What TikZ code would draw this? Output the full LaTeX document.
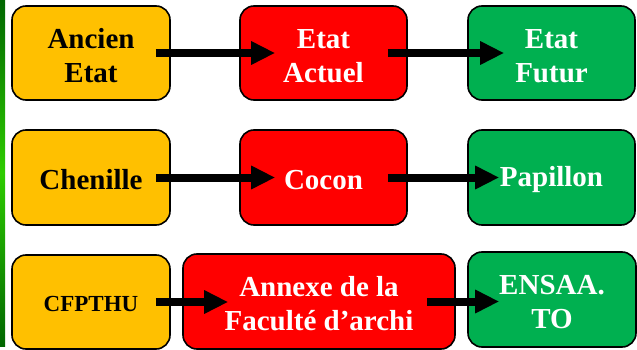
\documentclass[tikz,border=0pt]{standalone}
\usepackage{fontspec}
\setmainfont{Liberation Serif}
\usetikzlibrary{arrows.meta,shapes}
\definecolor{jaune}{HTML}{FFC000}
\definecolor{rouge}{HTML}{FF0000}
\definecolor{vert}{HTML}{00B050}
\tikzstyle{etape}=[rectangle,rounded corners=14pt,draw=black,line width=1.6pt,inner sep=0pt,minimum height=94pt,text height=59pt,align=center,font=\rmfamily\bfseries\fontsize{29}{34}\selectfont]
\tikzstyle{uneligne}=[text height=25pt]
\tikzstyle{ancien}=[etape,fill=jaune,text=black,minimum width=158pt]
\tikzstyle{actuel}=[etape,fill=rouge,text=white,minimum width=167pt]
\tikzstyle{futur}=[etape,fill=vert,text=white,minimum width=167pt]
\tikzstyle{fleche}=[-{Triangle[width=22pt,length=24pt]},line width=8pt,black]

\begin{document}
\begin{tikzpicture}[x=1pt,y=-1pt]
\useasboundingbox (0,0) rectangle (637,350);
\shade[top color=green!40!black,bottom color=green!40!black,middle color=green!70!lime!80!black] (0,0) rectangle (5,346);
\node[ancien] (anc) at (91,53) {Ancien\\Etat};
\node[actuel] (act) at (323.5,53) {Etat\\Actuel};
\node[futur] (fut) at (551.5,53) {Etat\\Futur};
\node[ancien,uneligne,minimum height=95pt] (che) at (91,177.5) {Chenille};
\node[actuel,uneligne,minimum height=95pt] (coc) at (323.5,177.5) {Cocon};
\node[futur,uneligne,minimum height=95pt] (pap) at (551.5,177.5) {Papillon};
\node[ancien,text height=20pt,font=\rmfamily\bfseries\fontsize{23}{27}\selectfont] (cfp) at (91,302) {CFPTHU};
\node[actuel,minimum width=272pt,minimum height=95pt] (ann) at (319,301.5) {Annexe de la\\Faculté d’archi};
\node[futur,minimum width=168pt,minimum height=95pt] (ens) at (552,299.5) {ENSAA.\\TO};
\draw[fleche] ([xshift=-15pt]anc.east) -- ([xshift=36pt]act.west);
\draw[fleche] ([xshift=-20pt]act.east) -- ([xshift=37pt]fut.west);
\draw[fleche] ([xshift=-15pt]che.east) -- ([xshift=36pt]coc.west);
\draw[fleche] ([xshift=-20pt]coc.east) -- ([xshift=32pt]pap.west);
\draw[fleche] ([xshift=-15pt]cfp.east) -- ([xshift=46pt]cfp.east -| ann.west);
\draw[fleche] ([xshift=-29pt]ann.east) -- ([xshift=32pt]ann.east -| ens.west);
\end{tikzpicture}
\end{document}
